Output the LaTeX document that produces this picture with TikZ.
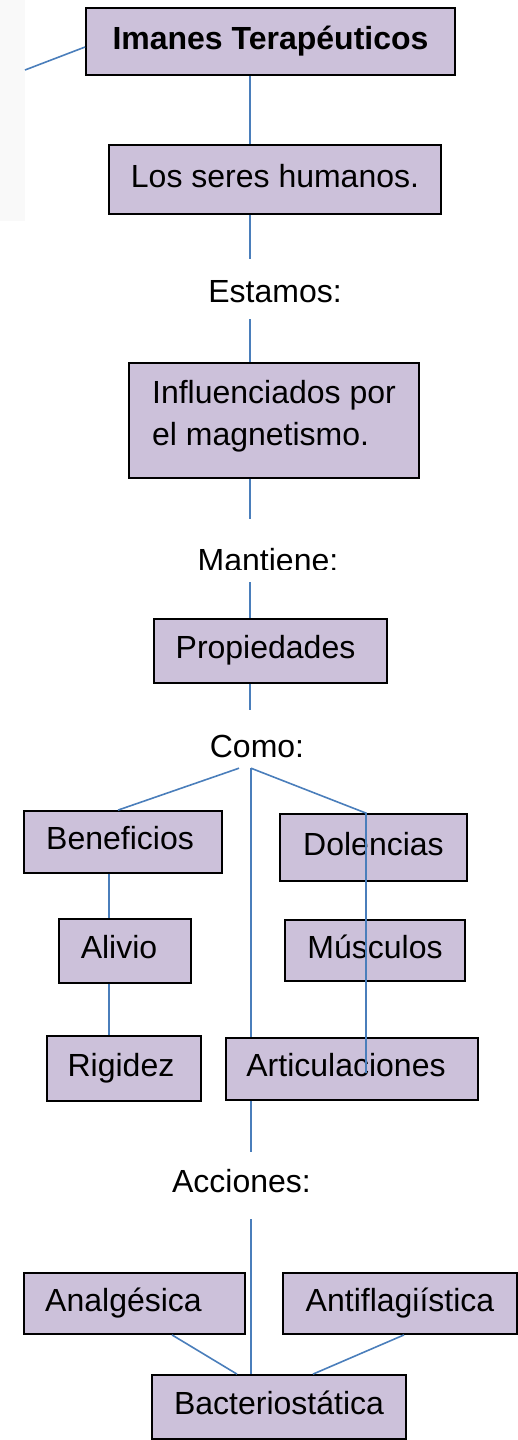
\documentclass[tikz,border=0pt]{standalone}
\usepackage{fontspec}
\setmainfont{Liberation Sans}
\usetikzlibrary{calc}
\definecolor{boxfill}{HTML}{CCC1DA}
\definecolor{linkblue}{HTML}{4A7EBB}
\begin{document}
\begin{tikzpicture}[x=1pt,y=-1pt,
  box/.style={draw=black, line width=1.8pt, fill=boxfill, inner sep=0pt,
              text height=23pt, text depth=8pt, font=\fontsize{32}{38}\selectfont},
  lbl/.style={inner sep=0pt, font=\fontsize{32}{38}\selectfont},
  conn/.style={draw=linkblue, line width=1.6pt}]
\useasboundingbox (0,0) rectangle (518,1440);
\fill[black!2.5] (0,0) rectangle (25,221);

% boxes
\node[box, minimum width=369pt, minimum height=67pt, font=\bfseries\fontsize{32}{38}\selectfont] (imanes) at (270.5,41.5) {Imanes Terapéuticos};
\node[box, minimum width=332pt, minimum height=69pt] (seres) at (275,179.5) {Los seres humanos.};
\node[box, minimum width=290pt, minimum height=115pt, text depth=58pt, font=\fontsize{32}{42}\selectfont] (infl) at (274,420.5)
  {\begin{tabular}[t]{@{}l@{}}Influenciados por\\el magnetismo.\end{tabular}};
\node[box, minimum width=233pt, minimum height=64pt] (prop) at (270.5,651) {Propiedades\hspace*{10pt}};
\node[box, minimum width=198pt, minimum height=62pt] (benef) at (123,842) {Beneficios\hspace*{6pt}};
\node[box, minimum width=187pt, minimum height=67pt] (dolen) at (373.5,847.5) {Dolencias};
\node[box, minimum width=132pt, minimum height=64pt] (alivio) at (125,951) {Alivio\hspace*{12pt}};
\node[box, minimum width=180pt, minimum height=61pt] (musc) at (375,950.5) {Músculos};
\node[box, minimum width=154pt, minimum height=65pt] (rigidez) at (124,1068.5) {Rigidez\hspace*{6pt}};
\node[box, minimum width=252pt, minimum height=62pt] (artic) at (352,1069) {Articulaciones\hspace*{12pt}};
\node[box, minimum width=221pt, minimum height=61pt] (analg) at (134.5,1303.5) {Analgésica\hspace*{22pt}};
\node[box, minimum width=234pt, minimum height=61pt] (antif) at (400,1303.5) {Antiflagiística};
\node[box, minimum width=254pt, minimum height=64pt] (bact) at (279,1407) {Bacteriostática};

% labels
\node[lbl, text height=43pt, text depth=17pt] (estamos) at (275,289) {Estamos:};
\begin{scope}
  \clip (0,0) rectangle (518,569.5);
  \node[lbl, text height=52pt, text depth=11pt] (mantiene) at (268,550.5) {Mantiene:};
\end{scope}
\node[lbl, text height=47pt, text depth=11pt] (como) at (257,739) {Como:};
\node[lbl, text height=40pt, text depth=27pt] (acc) at (241.5,1185.5) {Acciones:};

% connector coordinates
\coordinate (ax) at (250,0);
\coordinate (bx) at (251,0);
\coordinate (cl) at (239,0);
\coordinate (bl) at (118,0);
\coordinate (dx) at (366,0);
\coordinate (rend) at (366,1073);
\coordinate (vx) at (109,0);
\coordinate (a1) at (172,0);
\coordinate (a2) at (237,0);
\coordinate (a3) at (404,0);
\coordinate (a4) at (313,0);
\coordinate (lfree) at (25,70);

% connectors
\draw[conn] (lfree) -- ($(imanes.west)+(0,5.5)$);
\draw[conn] (imanes.south -| ax) -- (seres.north -| ax);
\draw[conn] (seres.south -| ax) -- (estamos.north -| ax);
\draw[conn] (estamos.south -| ax) -- (infl.north -| ax);
\draw[conn] (infl.south -| ax) -- (mantiene.north -| ax);
\draw[conn] (mantiene.south -| ax) -- (prop.north -| ax);
\draw[conn] (prop.south -| ax) -- (como.north -| ax);
\draw[conn] (como.south -| cl) -- (benef.north -| bl);
\draw[conn] (como.south -| bx) -- (artic.north -| bx);
\draw[conn] (como.south -| bx) -- (dolen.north -| dx) -- (rend);
\draw[conn] (benef.south -| vx) -- (alivio.north -| vx);
\draw[conn] (alivio.south -| vx) -- (rigidez.north -| vx);
\draw[conn] (artic.south -| bx) -- (acc.north -| bx);
\draw[conn] (acc.south -| bx) -- (bact.north -| bx);
\draw[conn] (analg.south -| a1) -- (bact.north -| a2);
\draw[conn] (antif.south -| a3) -- (bact.north -| a4);
\end{tikzpicture}
\end{document}
